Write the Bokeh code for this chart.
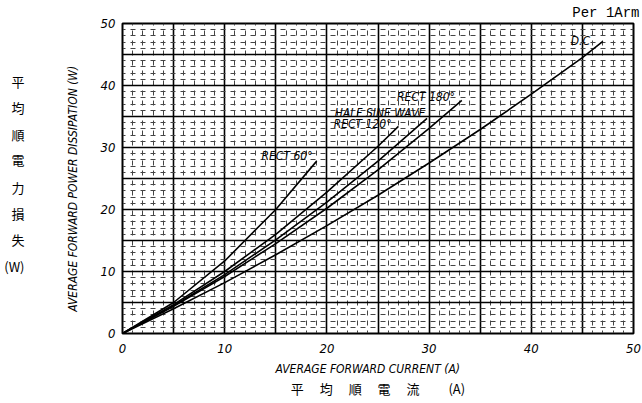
from bokeh.plotting import figure
from bokeh.models import Range1d, SingleIntervalTicker, Label, FixedTicker, LinearAxis, Title
from bokeh.embed import file_html
from bokeh.resources import INLINE

# ---- data ----
x_rect60 = [0, 5, 10, 15, 19]
y_rect60 = [0, 5.0, 11.7, 20.0, 27.8]
x_rect120 = [0, 5, 10, 15, 20, 25, 27]
y_rect120 = [0, 4.65, 10.0, 16.0, 22.8, 30.2, 33.4]
x_half_sine = [0, 5, 10, 15, 20, 25, 29.8]
y_half_sine = [0, 4.48, 9.5, 15.1, 21.2, 27.8, 34.7]
x_rect180 = [0, 5, 10, 15, 20, 25, 30, 33.2]
y_rect180 = [0, 4.37, 9.2, 14.5, 20.2, 26.4, 33.1, 37.6]
x_dc = [0, 5, 10, 15, 20, 25, 30, 35, 40, 45, 47]
y_dc = [0, 3.98, 8.2, 12.7, 17.4, 22.3, 27.5, 32.9, 38.6, 44.5, 47.1]

curve_labels = ["RECT 60°", "RECT 120°", "HALF SINE WAVE", "RECT 180°", "D.C"]
label_x = [16.1, 23.5, 25.2, 29.7, 44.8]
label_y = [28.6, 33.8, 35.5, 38.2, 47.2]

x_ticks = [0, 10, 20, 30, 40, 50]
y_ticks = [0, 10, 20, 30, 40, 50]

jp_y_title = ["平", "均", "順", "電", "力", "損", "失", "(W)"]
jp_y_pos = [40.7, 36.5, 32.1, 28.0, 23.6, 19.3, 15.1, 10.8]

FONT = "DejaVu Sans Condensed, Liberation Sans, sans-serif"
JP = "Noto Sans CJK JP"

p = figure(width=642, height=400, output_backend="svg", toolbar_location=None,
           x_range=Range1d(0, 50), y_range=Range1d(0, 50),
           min_border_left=122, min_border_right=9, min_border_top=21, min_border_bottom=61)
p.outline_line_color = "black"
p.outline_line_width = 2
p.background_fill_color = "white"
p.border_fill_color = "white"

# grids
for g in (p.xgrid[0], p.ygrid[0]):
    g.ticker = SingleIntervalTicker(interval=5, num_minor_ticks=5)
    g.grid_line_color = "black"
    g.grid_line_width = 1.6
    g.minor_grid_line_color = "#444444"
    g.minor_grid_line_width = 1
    g.minor_grid_line_dash = "5 5"
p.xgrid[0].minor_grid_line_dash_offset = 2
p.ygrid[0].minor_grid_line_dash_offset = 2

# axes
for ax in (p.xaxis[0], p.yaxis[0]):
    ax.major_tick_line_color = None
    ax.minor_tick_line_color = None
    ax.axis_line_color = "black"
    ax.major_label_text_font = FONT
    ax.major_label_text_font_style = "italic"
    ax.major_label_text_font_size = "13px"
    ax.major_label_text_color = "black"
    ax.axis_label_text_font = FONT
    ax.axis_label_text_font_style = "italic"
    ax.axis_label_text_font_size = "12px"
    ax.axis_label_text_color = "black"
p.xaxis[0].ticker = FixedTicker(ticks=x_ticks)
p.yaxis[0].ticker = FixedTicker(ticks=y_ticks)
p.xaxis[0].major_label_standoff = 4
p.yaxis[0].major_label_standoff = 1
p.xaxis[0].axis_label = "AVERAGE FORWARD CURRENT (A)" + "\u00a0" * 6
p.xaxis[0].axis_label_standoff = 6
p.yaxis[0].axis_label = "AVERAGE FORWARD POWER DISSIPATION (W)" + "\u00a0" * 6
p.yaxis[0].axis_label_standoff = 18

jp_x_axis = LinearAxis(ticker=FixedTicker(ticks=[]), axis_line_color=None,
                       major_tick_line_color=None, minor_tick_line_color=None,
                       major_label_text_color=None,
                       axis_label="平　 均　 順　 電　 流　　 (A)", axis_label_standoff=0,
                       axis_label_text_font=JP, axis_label_text_font_style="normal",
                       axis_label_text_font_size="13px", axis_label_text_color="black")
p.add_layout(jp_x_axis, "below")

# vertical Japanese title, drawn as the labels of an outer left axis
jp_y_axis = LinearAxis(ticker=FixedTicker(ticks=jp_y_pos),
                       major_label_overrides=dict(zip(jp_y_pos, jp_y_title)),
                       axis_line_color=None, major_tick_line_color=None,
                       minor_tick_line_color=None, major_label_standoff=32,
                       major_label_text_align="center",
                       major_label_text_font=JP, major_label_text_font_size="13px",
                       major_label_text_color="black")
p.add_layout(jp_y_axis, "left")

# curves
for xs, ys in ((x_rect60, y_rect60), (x_rect120, y_rect120), (x_half_sine, y_half_sine),
               (x_rect180, y_rect180), (x_dc, y_dc)):
    p.line(xs, ys, line_color="black", line_width=1.6)

for t, lx, ly in zip(curve_labels, label_x, label_y):
    p.add_layout(Label(x=lx, y=ly, text=t, text_align="center", text_baseline="middle",
                       text_font=FONT, text_font_style="italic", text_font_size="12px",
                       text_color="black"))

# header note
p.add_layout(Title(text="Per 1Arm", align="right", offset=-6, standoff=5,
                   text_font="Liberation Mono", text_font_style="normal",
                   text_font_size="14px", text_color="black"), "above")

open("out.html", "w").write(file_html(p, INLINE))
